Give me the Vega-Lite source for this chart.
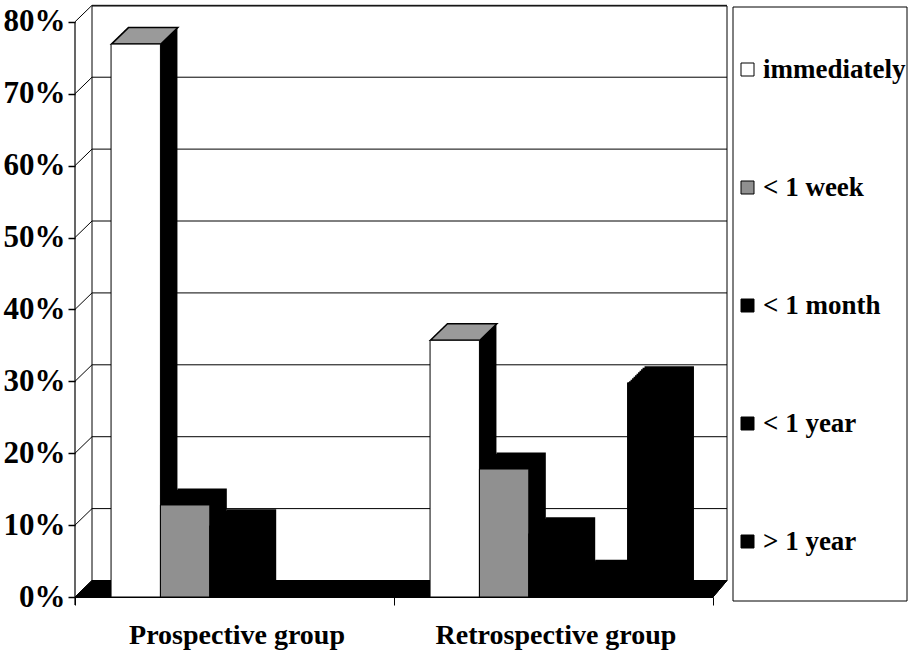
{
"$schema":"https://vega.github.io/schema/vega-lite/v6.json",
"width":652,"height":591,
"autosize":"none",
"padding":{"left":75,"top":6,"right":182,"bottom":59},
"background":"white",
"config":{"view":{"stroke":null},"font":"Liberation Serif"},
"datasets":{
"bars":[
{"group":"Prospective group","delay":"immediately","pct":76.9},
{"group":"Prospective group","delay":"< 1 week","pct":12.8},
{"group":"Prospective group","delay":"< 1 month","pct":9.9},
{"group":"Prospective group","delay":"< 1 year","pct":0},
{"group":"Prospective group","delay":"> 1 year","pct":0},
{"group":"Retrospective group","delay":"immediately","pct":35.7},
{"group":"Retrospective group","delay":"< 1 week","pct":17.8},
{"group":"Retrospective group","delay":"< 1 month","pct":8.8},
{"group":"Retrospective group","delay":"< 1 year","pct":2.9},
{"group":"Retrospective group","delay":"> 1 year","pct":29.8}
],
"grid":[{"tick":0},{"tick":10},{"tick":20},{"tick":30},{"tick":40},{"tick":50},{"tick":60},{"tick":70},{"tick":80}]
},
"encoding":{
"y":{"field":"pct","type":"quantitative","scale":{"domain":[0,82.2],"nice":false}}
},
"layer":[
{
"data":{"name":"grid"},
"encoding":{"x":{"datum":0,"type":"quantitative","scale":{"domain":[0,652],"nice":false,"zero":false},"axis":null},
"y":{"field":"tick","type":"quantitative","scale":{"domain":[0,82.2],"nice":false},
"axis":{"title":null,"values":[0,10,20,30,40,50,60,70,80],"labelExpr":"datum.value+'%'","grid":false,"domain":false,"ticks":true,"tickSize":7,"tickColor":"black","tickWidth":1.5,"labelFont":"Liberation Serif","labelFontWeight":"bold","labelFontSize":31,"labelColor":"black","labelPadding":3}}},
"layer":[
{"mark":{"type":"rule","color":"black","strokeWidth":1,"yOffset":-16.5},"encoding":{"x":{"datum":17,"type":"quantitative"},"x2":{"datum":652}}},
{"mark":{"type":"point","filled":false,"stroke":"black","strokeWidth":1,"opacity":1,"size":4,"shape":"M 0 0 L 17 -16.5"}},
{"transform":[{"filter":"datum.tick==0"}],"mark":{"type":"point","filled":false,"stroke":"black","strokeWidth":1,"opacity":1,"size":4,"shape":"M 17 -16.5 L 17 -591 L 652 -591 L 652 -16.5 L 638 0"}},
{"transform":[{"filter":"datum.tick==0"}],"mark":{"type":"point","filled":false,"stroke":"black","strokeWidth":1.2,"opacity":1,"size":4,"shape":"M 0 8 L 0 -575"}},
{"transform":[{"filter":"datum.tick==0"}],"mark":{"type":"point","filled":false,"stroke":"black","strokeWidth":1,"opacity":1,"size":4,"shape":"M 658 -590 L 832 -590 L 832 4 L 658 4 Z"}},
{"transform":[{"filter":"datum.tick==0"}],"mark":{"type":"point","filled":true,"fill":"black","stroke":"black","strokeWidth":1,"opacity":1,"size":4,"shape":"M 0 0 L 17 -16.5 L 652 -16.5 L 638 0 Z"}}
]
},
{
"data":{"name":"bars"},
"encoding":{
"x":{"field":"group","type":"nominal","sort":["Prospective group","Retrospective group"],
"scale":{"domain":["Prospective group","Retrospective group"],"range":[0,638],"paddingInner":0,"paddingOuter":0},
"axis":{"title":null,"labelAngle":0,"labelFont":"Liberation Serif","labelFontWeight":"bold","labelFontSize":28,"labelColor":"black","labelPadding":16,"labelOffset":2,"tickBand":"extent","tickSize":8,"tickColor":"black","domainColor":"black","domainWidth":1.2,"labelLimit":400}},
"y2":{"datum":0}
},
"layer":[
{"mark":{"type":"rule","stroke":"black","strokeWidth":49.4,"strokeCap":"butt","yOffset":-1.5},"encoding":{"xOffset":{"field":"delay","type":"nominal","sort":null,"scale":{"domain":["immediately","< 1 week","< 1 month","< 1 year","> 1 year"],"paddingInner":0,"paddingOuter":0.73,"range":[1.5,320.5]}}}},
{"mark":{"type":"rule","stroke":"black","strokeWidth":49.4,"strokeCap":"butt","yOffset":-3},"encoding":{"xOffset":{"field":"delay","type":"nominal","sort":null,"scale":{"domain":["immediately","< 1 week","< 1 month","< 1 year","> 1 year"],"paddingInner":0,"paddingOuter":0.73,"range":[3,322]}}}},
{"mark":{"type":"rule","stroke":"black","strokeWidth":49.4,"strokeCap":"butt","yOffset":-4.5},"encoding":{"xOffset":{"field":"delay","type":"nominal","sort":null,"scale":{"domain":["immediately","< 1 week","< 1 month","< 1 year","> 1 year"],"paddingInner":0,"paddingOuter":0.73,"range":[4.5,323.5]}}}},
{"mark":{"type":"rule","stroke":"black","strokeWidth":49.4,"strokeCap":"butt","yOffset":-6},"encoding":{"xOffset":{"field":"delay","type":"nominal","sort":null,"scale":{"domain":["immediately","< 1 week","< 1 month","< 1 year","> 1 year"],"paddingInner":0,"paddingOuter":0.73,"range":[6,325]}}}},
{"mark":{"type":"rule","stroke":"black","strokeWidth":49.4,"strokeCap":"butt","yOffset":-7.5},"encoding":{"xOffset":{"field":"delay","type":"nominal","sort":null,"scale":{"domain":["immediately","< 1 week","< 1 month","< 1 year","> 1 year"],"paddingInner":0,"paddingOuter":0.73,"range":[7.5,326.5]}}}},
{"mark":{"type":"rule","stroke":"black","strokeWidth":49.4,"strokeCap":"butt","yOffset":-9},"encoding":{"xOffset":{"field":"delay","type":"nominal","sort":null,"scale":{"domain":["immediately","< 1 week","< 1 month","< 1 year","> 1 year"],"paddingInner":0,"paddingOuter":0.73,"range":[9,328]}}}},
{"mark":{"type":"rule","stroke":"black","strokeWidth":49.4,"strokeCap":"butt","yOffset":-10.5},"encoding":{"xOffset":{"field":"delay","type":"nominal","sort":null,"scale":{"domain":["immediately","< 1 week","< 1 month","< 1 year","> 1 year"],"paddingInner":0,"paddingOuter":0.73,"range":[10.5,329.5]}}}},
{"mark":{"type":"rule","stroke":"black","strokeWidth":49.4,"strokeCap":"butt","yOffset":-12},"encoding":{"xOffset":{"field":"delay","type":"nominal","sort":null,"scale":{"domain":["immediately","< 1 week","< 1 month","< 1 year","> 1 year"],"paddingInner":0,"paddingOuter":0.73,"range":[12,331]}}}},
{"mark":{"type":"rule","stroke":"black","strokeWidth":49.4,"strokeCap":"butt","yOffset":-13.5},"encoding":{"xOffset":{"field":"delay","type":"nominal","sort":null,"scale":{"domain":["immediately","< 1 week","< 1 month","< 1 year","> 1 year"],"paddingInner":0,"paddingOuter":0.73,"range":[13.5,332.5]}}}},
{"mark":{"type":"rule","stroke":"black","strokeWidth":49.4,"strokeCap":"butt","yOffset":-15},"encoding":{"xOffset":{"field":"delay","type":"nominal","sort":null,"scale":{"domain":["immediately","< 1 week","< 1 month","< 1 year","> 1 year"],"paddingInner":0,"paddingOuter":0.73,"range":[15,334]}}}},
{"mark":{"type":"rule","stroke":"black","strokeWidth":49.4,"strokeCap":"butt","yOffset":-16.5},"encoding":{"xOffset":{"field":"delay","type":"nominal","sort":null,"scale":{"domain":["immediately","< 1 week","< 1 month","< 1 year","> 1 year"],"paddingInner":0,"paddingOuter":0.73,"range":[17,336]}}}},
{"transform":[{"filter":"datum.delay=='immediately'"}],"mark":{"type":"point","filled":true,"fill":"#9a9a9a","stroke":"black","strokeWidth":1.5,"opacity":1,"size":4,"shape":"M -6.2 0 L 43.2 0 L 60.2 -16.5 L 10.8 -16.5 Z"},"encoding":{"xOffset":{"field":"delay","type":"nominal","sort":null,"scale":{"domain":["immediately","< 1 week","< 1 month","< 1 year","> 1 year"],"paddingInner":0,"paddingOuter":0.73,"range":[0,319]}}}},
{"mark":{"type":"bar","stroke":"black","strokeWidth":1},
"encoding":{"xOffset":{"field":"delay","type":"nominal","sort":null,"scale":{"domain":["immediately","< 1 week","< 1 month","< 1 year","> 1 year"],"paddingInner":0,"paddingOuter":0.73,"range":[0,319]}},"fill":{"field":"delay","type":"nominal","scale":{"domain":["immediately","< 1 week","< 1 month","< 1 year","> 1 year"],"range":["#ffffff","#909090","#000000","#000000","#000000"]},
"legend":{"title":null,"orient":"none","legendX":659,"legendY":50,"symbolType":"square","symbolSize":169,"symbolStrokeColor":"black","symbolStrokeWidth":1,"labelFont":"Liberation Serif","labelFontWeight":"bold","labelFontSize":27,"labelColor":"black","rowPadding":90,"padding":0,"labelOffset":2,"labelLimit":300}}}}
],
"resolve":{"scale":{"xOffset":"independent"}}
}
],
"resolve":{"scale":{"x":"independent"}}
}
